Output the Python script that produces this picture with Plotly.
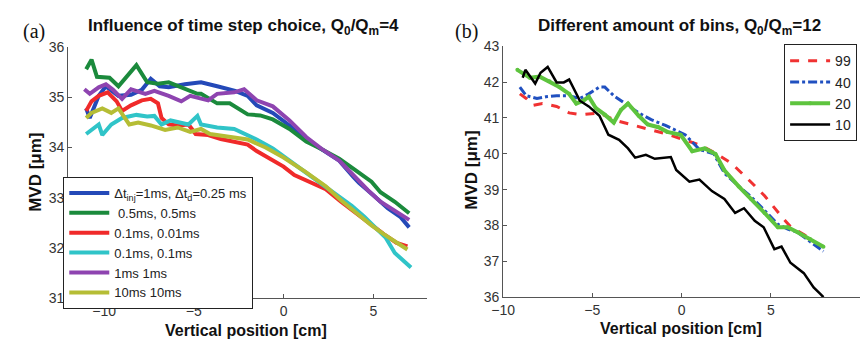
import plotly.graph_objects as go

# ---------------- Panel (a): Influence of time step choice ----------------
blue_x = [-11.0, -10.8, -10.3, -9.9, -9.2, -8.5, -7.9, -7.4, -6.9, -6.4, -5.5, -4.6, -3.7, -2.7, -2.0,
          -1.5, -0.6, 0.33, 1.26, 2.1, 3.1, 3.9, 4.2, 5.0, 5.8, 6.5, 7.0]
blue_y = [34.78, 34.59, 35.03, 35.22, 35.03, 35.05, 35.15, 35.37, 35.22, 35.20, 35.26, 35.30, 35.22, 35.13, 35.03,
          34.84, 34.69, 34.44, 34.16, 33.97, 33.74, 33.41, 33.30, 33.05, 32.79, 32.62, 32.41]

green_x = [-11.0, -10.7, -10.4, -9.7, -9.2, -8.2, -7.6, -7.0, -6.4, -5.5, -4.8, -4.6, -3.7, -3.0, -2.75, -2.0,
           -1.3, -0.6, 0.33, 1.26, 2.1, 3.1, 4.0, 4.9, 5.4, 6.2, 7.0]
green_y = [35.56, 35.75, 35.41, 35.39, 35.22, 35.64, 35.30, 35.27, 35.30, 35.16, 35.07, 35.07, 34.88, 34.88, 34.82, 34.66,
           34.64, 34.56, 34.37, 34.12, 33.97, 33.78, 33.55, 33.32, 33.11, 32.92, 32.69]

red_x = [-11.0, -10.7, -10.3, -9.8, -9.3, -9.0, -8.5, -7.9, -7.4, -7.0, -6.8, -6.4, -5.9, -5.3, -4.9, -4.2,
         -3.5, -2.75, -2.0, -1.5, -0.6, 0.0, 0.6, 1.3, 2.35, 3.2, 4.2, 4.9, 5.6, 6.3, 6.9]
red_y = [34.73, 34.92, 35.03, 35.10, 34.92, 34.73, 34.84, 34.94, 34.97, 34.88, 34.59, 34.46, 34.44, 34.46, 34.27, 34.25,
         34.17, 34.12, 34.06, 33.93, 33.75, 33.62, 33.45, 33.33, 33.17, 32.92, 32.65, 32.45, 32.27, 32.10, 32.03]

cyan_x = [-11.0, -10.7, -10.3, -10.1, -9.6, -9.0, -8.2, -7.6, -7.2, -6.8, -6.3, -5.3, -4.8, -4.6, -3.7, -2.75,
          -2.0, -1.5, -0.6, 0.33, 1.26, 2.1, 3.0, 3.8, 4.5, 5.1, 5.7, 6.2, 6.7, 7.1]
cyan_y = [34.27, 34.35, 34.46, 34.25, 34.46, 34.59, 34.65, 34.62, 34.63, 34.46, 34.54, 34.46, 34.63, 34.46, 34.40, 34.37,
          34.25, 34.16, 33.98, 33.74, 33.51, 33.28, 33.05, 32.84, 32.62, 32.41, 32.20, 31.90, 31.75, 31.61]

purple_x = [-11.1, -10.8, -10.3, -9.9, -9.5, -9.0, -8.5, -7.7, -7.2, -6.4, -5.7, -5.2, -4.2, -3.7, -2.75, -2.2,
            -1.5, -0.6, 0.33, 1.26, 2.1, 3.1, 4.0, 4.7, 5.4, 6.2, 7.0]
purple_y = [35.16, 35.07, 35.20, 35.26, 35.15, 34.97, 35.16, 35.07, 35.13, 35.03, 34.92, 35.03, 34.94, 35.07, 35.10, 35.16,
            34.94, 34.82, 34.54, 34.21, 33.98, 33.74, 33.41, 33.15, 32.92, 32.75, 32.56]

olive_x = [-11.0, -10.7, -10.1, -9.6, -9.2, -8.6, -8.1, -7.4, -6.6, -5.9, -5.2, -4.6, -4.1, -3.1, -2.0,
           -1.0, 0.0, 1.2, 2.35, 3.2, 4.2, 4.9, 5.6, 6.3, 6.9]
olive_y = [34.59, 34.69, 34.78, 34.69, 34.78, 34.46, 34.50, 34.44, 34.35, 34.40, 34.31, 34.37, 34.27, 34.21, 34.16,
           34.00, 33.80, 33.52, 33.23, 32.95, 32.65, 32.45, 32.27, 32.10, 31.97]

names_a = ["\u0394t<sub>inj</sub>=1ms, \u0394t<sub>d</sub>=0.25 ms", " 0.5ms, 0.5ms", "0.1ms, 0.01ms",
           "0.1ms, 0.1ms", "1ms 1ms", "10ms 10ms"]
colors_a = ["#2449b8", "#1b8a3c", "#f02a2a", "#30c4c8", "#8e44b0", "#b5bd35"]

# ---------------- Panel (b): Different amount of bins ----------------
b99_x = [-9.06, -8.7, -8.3, -7.8, -7.0, -6.3, -5.6, -4.6, -3.7, -2.8, -1.9, -0.9, 0.2, 1.0, 1.9, 2.8,
         3.75, 4.65, 5.6, 6.1, 7.0, 7.95]
b99_y = [41.67, 41.54, 41.35, 41.40, 41.32, 41.14, 41.09, 41.14, 40.93, 40.82, 40.69, 40.56, 40.39, 40.25, 40.02, 39.73,
         39.28, 38.83, 38.25, 37.97, 37.70, 37.36]

b40_x = [-9.06, -8.7, -8.1, -7.6, -7.0, -6.3, -5.7, -5.2, -4.6, -4.3, -3.8, -3.15, -2.4, -1.7, -0.9, 0.2,
         1.0, 1.8, 2.4, 3.15, 3.9, 4.65, 5.4, 5.95, 6.5, 7.2, 7.95]
b40_y = [41.86, 41.62, 41.54, 41.59, 41.62, 41.62, 41.54, 41.67, 41.86, 41.86, 41.62, 41.40, 41.14, 40.95, 40.79, 40.53,
         40.12, 40.00, 39.46, 39.12, 38.80, 38.42, 38.03, 37.90, 37.81, 37.55, 37.28]

b20_x = [-9.2, -8.5, -7.95, -7.4, -6.85, -6.3, -5.9, -5.5, -5.2, -4.8, -4.3, -3.8, -3.4, -3.0, -2.4, -1.9,
         -1.3, -0.8, -0.05, 0.6, 1.3, 1.9, 2.4, 3.2, 3.9, 4.65, 5.4, 5.95, 6.5, 7.2, 7.95]
b20_y = [42.34, 42.12, 42.15, 42.02, 41.86, 41.67, 41.40, 41.48, 41.59, 41.27, 41.09, 40.87, 41.22, 41.40, 41.06, 40.82,
         40.74, 40.61, 40.53, 40.07, 40.15, 39.99, 39.54, 39.09, 38.74, 38.35, 37.95, 37.95, 37.81, 37.62, 37.41]

b10_x = [-8.9, -8.75, -8.2, -7.9, -7.5, -7.0, -6.6, -6.3, -5.7, -5.2, -4.6, -4.1, -3.5, -3.0, -2.6, -2.0,
         -1.5, -0.6, -0.3, 0.44, 1.0, 1.7, 2.4, 3.0, 3.5, 4.1, 4.6, 5.2, 5.6, 6.1, 6.85, 7.4, 7.8, 7.95]
b10_y = [42.12, 42.34, 41.96, 42.26, 42.42, 41.99, 41.99, 42.07, 41.48, 41.32, 41.06, 40.53, 40.39, 40.15, 39.89, 39.97,
         39.86, 39.91, 39.55, 39.22, 39.28, 38.96, 38.74, 38.35, 38.48, 38.13, 37.95, 37.34, 37.41, 36.96, 36.67, 36.27,
         36.08, 36.00]

names_b = ["99", "40", "20", "10"]
colors_b = ["#f03232", "#2050c0", "#5ec43e", "#000000"]

xticks_a = [-10, -5, 0, 5]
yticks_a = [31, 32, 33, 34, 35, 36]
xticks_b = [-10, -5, 0, 5, 10]
yticks_b = [36, 37, 38, 39, 40, 41, 42, 43]

W, H = 863, 351
fig = go.Figure()

series_a = [(blue_x, blue_y), (green_x, green_y), (red_x, red_y),
            (cyan_x, cyan_y), (purple_x, purple_y), (olive_x, olive_y)]
for (xs, ys), nm, col in zip(series_a, names_a, colors_a):
    fig.add_trace(go.Scatter(x=xs, y=ys, name=nm, mode="lines",
                             line=dict(color=col, width=4), xaxis="x", yaxis="y",
                             legend="legend"))

series_b = [(b99_x, b99_y, "dash", 3, "lines"), (b40_x, b40_y, "dashdot", 3, "lines"),
            (b20_x, b20_y, "solid", 4, "lines+markers"), (b10_x, b10_y, "solid", 2.5, "lines")]
for (xs, ys, dash, wd, mode), nm, col in zip(series_b, names_b, colors_b):
    fig.add_trace(go.Scatter(x=xs, y=ys, name=nm, mode=mode,
                             line=dict(color=col, width=wd, dash=dash),
                             marker=dict(size=4, color=col),
                             xaxis="x2", yaxis="y2", legend="legend2"))

NARROW = "Liberation Sans Narrow, Arial Narrow, Liberation Sans, Arial"
axis_common = dict(showline=True, linecolor="#555", linewidth=1, ticks="inside", ticklen=4,
                   tickcolor="#555", showgrid=False, zeroline=False, mirror=False,
                   tickfont=dict(family=NARROW, size=14, color="#333"))

ytop = 1 - 41 / H
ybot = 1 - 304 / H

fig.update_layout(
    width=W, height=H, margin=dict(l=0, r=0, t=0, b=0),
    paper_bgcolor="white", plot_bgcolor="white",
    font=dict(family="Liberation Sans, Arial", color="#222"),
    xaxis=dict(domain=[57 / W, 421 / W], range=[-12, 8], tickvals=xticks_a, anchor="y", **axis_common),
    yaxis=dict(domain=[ybot, ytop], range=[31, 36], tickvals=yticks_a, anchor="x", **axis_common),
    xaxis2=dict(domain=[498 / W, 860 / W], range=[-10, 10], tickvals=xticks_b, anchor="y2", **axis_common),
    yaxis2=dict(domain=[1 - 303 / H, 1 - 40 / H], range=[36, 43], tickvals=yticks_b, anchor="x2", **axis_common),
    legend=dict(x=52 / W, y=1 - 177 / H, xanchor="left", yanchor="top", bgcolor="white",
                bordercolor="#222", borderwidth=1, itemwidth=40, tracegroupgap=0,
                font=dict(family="Liberation Sans, Arial", size=13, color="#222")),
    legend2=dict(x=783 / W, y=1 - 38 / H, xanchor="left", yanchor="top", bgcolor="white",
                 bordercolor="#222", borderwidth=1, itemwidth=40,
                 font=dict(family=NARROW, size=14, color="#222")),
    showlegend=True,
)

ann = []
def txt(x, y, s, size=14, angle=0, family="Liberation Sans, Arial", xanchor="center", yanchor="middle"):
    ann.append(dict(x=x / W, y=1 - y / H, xref="paper", yref="paper", text=s, showarrow=False,
                    textangle=angle, xanchor=xanchor, yanchor=yanchor,
                    font=dict(family=family, size=size, color="#111")))

txt(235, 20, "<b>Influence of time step choice, Q<sub>0</sub>/Q<sub>m</sub>=4</b>", size=17)
txt(677, 20, "<b>Different amount of bins, Q<sub>0</sub>/Q<sub>m</sub>=12</b>", size=17)
txt(22, 25, "(a)", size=20, family="Liberation Serif, DejaVu Serif")
txt(461, 25, "(b)", size=20, family="Liberation Serif, DejaVu Serif")
txt(237, 338, "<b>Vertical position [cm]</b>", size=16)
txt(678, 336, "<b>Vertical position [cm]</b>", size=16)
txt(23, 172, "<b>MVD [\u03bcm]</b>", size=17, angle=-90)
txt(466, 170, "<b>MVD [\u03bcm]</b>", size=17, angle=-90)
fig.update_layout(annotations=ann)

fig.write_html("out.html")
